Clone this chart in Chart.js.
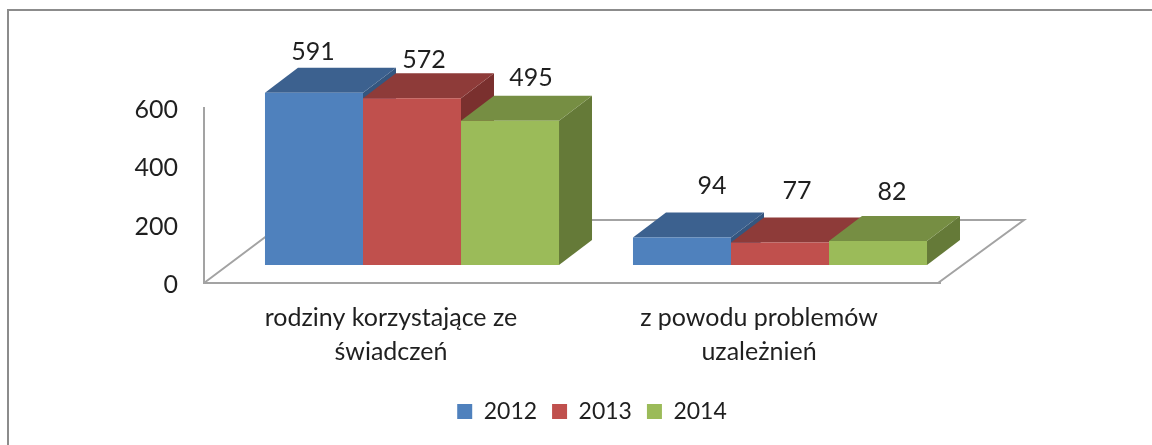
<!DOCTYPE html>
<html><head><meta charset="utf-8">
<style>
html,body{margin:0;padding:0;background:#fff;overflow:hidden}
#wrap{position:absolute;left:0;top:0;width:1152px;height:445px}
#frame{position:absolute;left:7px;top:9px;right:-10px;bottom:-10px;border-top:2.5px solid #8c8c8c;border-left:2.5px solid #8c8c8c}
canvas{position:absolute;left:0;top:0}
</style>
</head><body>
<div id="wrap"><div id="frame"></div><canvas id="c" width="1152" height="445"></canvas></div>
<script src="https://cdn.jsdelivr.net/npm/chart.js@4"></script>
<script>
const categories = [["rodziny korzystające ze","świadczeń"],["z powodu problemów","uzależnień"]];
const seriesNames = ["2012","2013","2014"];
const values2012 = [591,94];
const values2013 = [572,77];
const values2014 = [495,82];
const yTicks = [0,200,400,600];

const FONT = 'Lato, "Open Sans", sans-serif';
const TEXT = '#1f1f1f', AXIS = '#a3a3a3';
const front = ['#4F81BD','#C0504D','#9BBB59'];
const top3d = ['#3C618F','#8E3B39','#768E43'];
const side3d = ['#35567F','#7A302E','#657A38'];
const barShift = {x:24,y:-18};      // bars stand inside the floor
const depth = {x:33,y:-25};         // bar depth
const floorDepth = {x:84,y:-63};    // floor depth
const labelNudge = [[[-1,-41],[30,-52]],[[12,-38],[17,-52]],[[21,-43],[14,-49]]];

const poly = (ctx,pts,fill)=>{ctx.beginPath();pts.forEach((p,i)=>i?ctx.lineTo(p[0],p[1]):ctx.moveTo(p[0],p[1]));ctx.closePath();ctx.fillStyle=fill;ctx.fill();};

const bars3d = {
  id:'bars3d',
  beforeDatasetsDraw(chart){
    const {ctx,chartArea:a} = chart;
    ctx.save();
    ctx.strokeStyle = AXIS; ctx.lineWidth = 2;
    ctx.beginPath();
    ctx.moveTo(a.left,a.bottom);
    ctx.lineTo(a.left+floorDepth.x,a.bottom+floorDepth.y);
    ctx.lineTo(a.right+floorDepth.x,a.bottom+floorDepth.y);
    ctx.lineTo(a.right-2,a.bottom);
    ctx.stroke();
    ctx.restore();
    ctx.save();
    ctx.translate(barShift.x,barShift.y);
    chart.data.datasets.forEach((ds,i)=>{
      chart.getDatasetMeta(i).data.forEach(b=>{
        const l=b.x-b.width/2, r=b.x+b.width/2, t=b.y, bt=b.base, dx=depth.x, dy=depth.y;
        poly(ctx,[[r,t],[r+dx,t+dy],[r+dx,bt+dy],[r,bt]],side3d[i]);
        poly(ctx,[[l,t],[l+dx,t+dy],[r+dx,t+dy],[r,t]],top3d[i]);
      });
    });
  },
  afterDatasetsDraw(chart){
    const ctx = chart.ctx;
    chart.data.datasets.forEach((ds,i)=>{
      chart.getDatasetMeta(i).data.forEach((b,j)=>{
        ctx.font = '25px '+FONT; ctx.fillStyle = TEXT;
        ctx.textAlign='center'; ctx.textBaseline='middle';
        ctx.fillText(String(ds.data[j]), b.x+labelNudge[i][j][0], b.y+labelNudge[i][j][1]);
      });
    });
    ctx.restore();
  }
};

const mk = (i,data)=>({label:seriesNames[i],data,backgroundColor:front[i],borderWidth:0,clip:false,barPercentage:1,categoryPercentage:0.799});

new Chart(document.getElementById('c'),{
  type:'bar',
  data:{labels:categories,datasets:[mk(0,values2012),mk(1,values2013),mk(2,values2014)]},
  plugins:[bars3d],
  options:{
    responsive:false,animation:false,
    layout:{padding:{left:32,right:0,top:108,bottom:12}},
    plugins:{
      tooltip:{enabled:false},
      legend:{position:'bottom',labels:{font:{family:FONT,size:23},color:TEXT,boxWidth:15,boxHeight:15,padding:15}}
    },
    scales:{
      x:{
        grid:{display:false},
        border:{display:true,color:AXIS,width:2},
        ticks:{color:TEXT,font:{family:FONT,size:25,lineHeight:1.36},padding:10,labelOffset:3,maxRotation:0,autoSkip:false},
        afterFit(s){s.height=102;}
      },
      y:{
        min:0,max:600,
        afterBuildTicks(s){s.ticks=yTicks.map(v=>({value:v}));},
        grid:{display:false},
        border:{display:true,color:AXIS,width:2},
        ticks:{color:TEXT,font:{family:FONT,size:25},padding:18,labelOffset:2},
        afterFit(s){s.width=172;}
      },
      spacer:{
        position:'right',display:true,
        grid:{display:false},border:{display:false},ticks:{display:false},
        afterFit(s){s.width=212;}
      }
    }
  }
});
</script>
</body></html>
